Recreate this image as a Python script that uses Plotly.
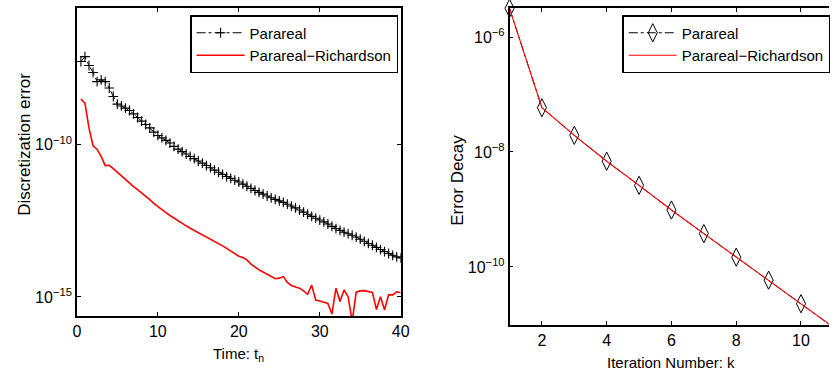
import plotly.graph_objects as go

# ---- Left panel: discretization error over time ----
time_t = [0.5 * i for i in range(1, 81)]

parareal_log10_err = [
    -7.26, -7.10, -7.39, -7.62, -7.92, -7.86, -7.92, -8.13, -8.41, -8.66,
    -8.72, -8.79, -8.87, -8.98, -9.10, -9.22, -9.33, -9.44, -9.58, -9.69,
    -9.77, -9.85, -9.94, -10.05, -10.14, -10.22, -10.30, -10.38, -10.45, -10.53,
    -10.60, -10.68, -10.75, -10.83, -10.90, -10.97, -11.04, -11.10, -11.16, -11.22,
    -11.29, -11.36, -11.43, -11.50, -11.56, -11.62, -11.68, -11.74, -11.79, -11.84,
    -11.89, -11.95, -12.01, -12.07, -12.14, -12.21, -12.28, -12.35, -12.41, -12.47,
    -12.53, -12.60, -12.68, -12.75, -12.81, -12.87, -12.92, -12.97, -13.03, -13.10,
    -13.17, -13.24, -13.30, -13.37, -13.44, -13.51, -13.57, -13.63, -13.68, -13.72,
]

richardson_log10_err = [
    -8.49, -8.63, -9.45, -10.03, -10.15, -10.38, -10.68, -10.67, -10.78, -10.90,
    -11.03, -11.15, -11.26, -11.37, -11.47, -11.57, -11.69, -11.80, -11.92, -12.03,
    -12.13, -12.23, -12.32, -12.41, -12.49, -12.58, -12.66, -12.74, -12.81, -12.89,
    -12.96, -13.03, -13.10, -13.18, -13.25, -13.32, -13.40, -13.48, -13.57, -13.66,
    -13.70, -13.78, -13.92, -14.03, -14.11, -14.18, -14.25, -14.31, -14.40, -14.38,
    -14.33, -14.52, -14.62, -14.67, -14.71, -14.80, -14.91, -14.61, -15.10, -15.13,
    -15.17, -15.21, -15.56, -14.71, -15.15, -14.77, -14.99, -15.80, -14.84, -14.80,
    -14.79, -14.82, -14.85, -15.41, -14.99, -15.43, -14.93, -14.93, -14.83, -14.86,
]

# ---- Right panel: error decay per Parareal iteration ----
iteration_k = [1, 2, 3, 4, 5, 6, 7, 8, 9, 10, 11]
decay_parareal_log10 = [-5.50, -7.23, -7.71, -8.16, -8.58, -9.01, -9.42, -9.83, -10.23, -10.64, -11.05]
decay_richardson_log10 = [-5.50, -7.23, -7.71, -8.16, -8.58, -9.01, -9.42, -9.83, -10.23, -10.64, -11.05]

left_ytick_vals = [1e-15, 1e-10]
left_ytick_text = ["10<sup>−15</sup>", "10<sup>−10</sup>"]
right_ytick_vals = [1e-10, 1e-8, 1e-6]
right_ytick_text = ["10<sup>−10</sup>", "10<sup>−8</sup>", "10<sup>−6</sup>"]

W, H = 838, 371
FONT = "Liberation Sans, Arial, sans-serif"


def px_x(p):
    return p / W


def px_y(p):
    return (H - p) / H


def to_values(logs):
    return [10 ** v for v in logs]


fig = go.Figure()

fig.add_trace(go.Scatter(
    x=time_t, y=to_values(parareal_log10_err), name="Parareal",
    mode="lines+markers",
    line=dict(color="black", width=1, dash="dashdot"),
    marker=dict(symbol="cross-thin", size=7, line=dict(color="black", width=1.1)),
    xaxis="x", yaxis="y", legend="legend",
))
fig.add_trace(go.Scatter(
    x=time_t, y=to_values(richardson_log10_err), name="Parareal−Richardson",
    mode="lines", line=dict(color="#ff0000", width=1.6),
    xaxis="x", yaxis="y", legend="legend",
))

fig.add_trace(go.Scatter(
    x=iteration_k, y=to_values(decay_parareal_log10), name="Parareal",
    mode="lines+markers",
    line=dict(color="black", width=1, dash="dashdot"),
    marker=dict(symbol="diamond-tall-open", size=13, color="black",
                line=dict(color="black", width=1)),
    cliponaxis=False,
    xaxis="x2", yaxis="y2", legend="legend2",
))
fig.add_trace(go.Scatter(
    x=iteration_k, y=to_values(decay_richardson_log10), name="Parareal−Richardson",
    mode="lines", line=dict(color="#ff0000", width=1.1),
    xaxis="x2", yaxis="y2", legend="legend2",
))

axis_common = dict(
    showline=True, linecolor="black", linewidth=1.5,
    ticks="inside", ticklen=4, tickcolor="black", tickwidth=1,
    showgrid=False, zeroline=False,
    tickfont=dict(family=FONT, size=16, color="black"),
)

legend_common = dict(
    bgcolor="white", bordercolor="black", borderwidth=1.5,
    font=dict(family=FONT, size=15, color="black"),
    itemwidth=48, tracegroupgap=0,
    xanchor="left", yanchor="top",
)

fig.update_layout(
    width=W, height=H,
    margin=dict(l=0, r=0, t=0, b=0),
    paper_bgcolor="white", plot_bgcolor="white",
    font=dict(family=FONT, size=15, color="black"),
    xaxis=dict(domain=[px_x(74), px_x(403)], range=[0, 40],
               tickvals=[0, 10, 20, 30, 40], mirror="ticks", anchor="y",
               **axis_common),
    yaxis=dict(domain=[px_y(316), px_y(8)], type="log", range=[-15.625, -5.5],
               tickvals=left_ytick_vals, ticktext=left_ytick_text,
               mirror="ticks", anchor="x", **axis_common),
    xaxis2=dict(domain=[px_x(513.5), px_x(837.5)], range=[1, 10.85],
                tickvals=[2, 4, 6, 8, 10], mirror="ticks", anchor="y2",
                **axis_common),
    yaxis2=dict(domain=[px_y(325), px_y(8.3)], type="log", range=[-11.01, -5.5],
                tickvals=right_ytick_vals, ticktext=right_ytick_text,
                mirror=False, anchor="x2", **axis_common),
    legend=dict(x=px_x(189), y=px_y(15), **legend_common),
    legend2=dict(x=px_x(628), y=px_y(15), **legend_common),
    showlegend=True,
)

h_title_font = dict(family=FONT, size=15, color="black")
v_title_font = dict(family=FONT, size=17, color="black")
fig.add_annotation(text="Discretization error", x=px_x(20), y=px_y(144),
                   xref="paper", yref="paper", textangle=-90, showarrow=False,
                   xanchor="center", yanchor="middle", font=v_title_font)
fig.add_annotation(text="Time: t<sub>n</sub>", x=px_x(238), y=px_y(343),
                   xref="paper", yref="paper", showarrow=False,
                   xanchor="center", yanchor="top", font=h_title_font)
fig.add_annotation(text="Error Decay", x=px_x(460), y=px_y(180),
                   xref="paper", yref="paper", textangle=-90, showarrow=False,
                   xanchor="center", yanchor="middle", font=v_title_font)
fig.add_annotation(text="Iteration Number: k", x=px_x(678), y=px_y(352),
                   xref="paper", yref="paper", showarrow=False,
                   xanchor="center", yanchor="top", font=h_title_font)

fig.write_html("out.html")
